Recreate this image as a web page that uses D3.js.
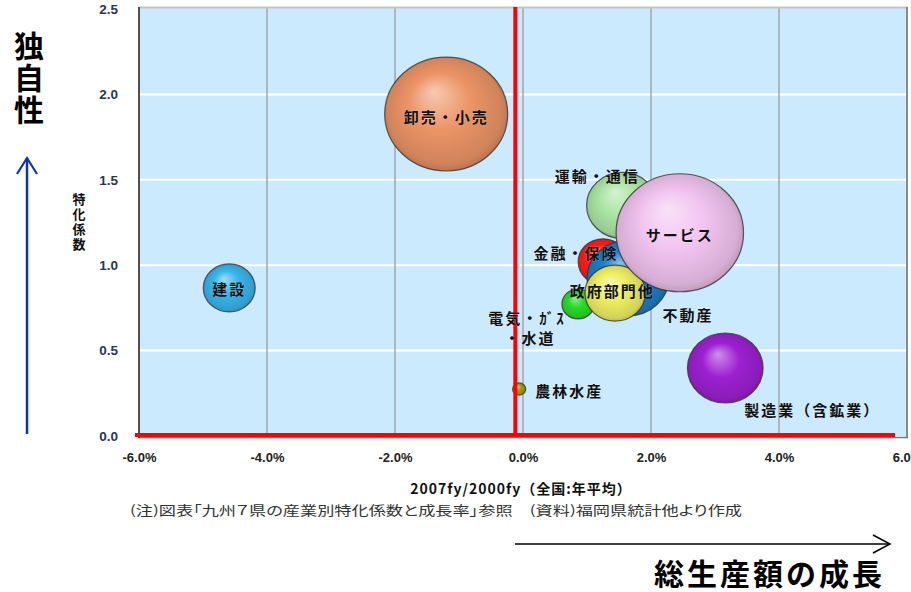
<!DOCTYPE html>
<html lang="ja">
<head>
<meta charset="utf-8">
<script src="https://cdn.jsdelivr.net/npm/d3@7"></script>
<style>
  html, body { margin: 0; padding: 0; background: #fff; }
  svg { display: block; font-family: "Noto Sans CJK JP", "Noto Sans", sans-serif; }
</style>
</head>
<body>
<svg id="chart" width="911" height="592"></svg>
<script>
// 産業別：成長率 (2007fy/2000fy, 全国年平均 %) × 特化係数、バブル＝構成比
const industries = ["卸売・小売", "建設", "運輸・通信", "金融・保険", "不動産", "電気・ガス・水道", "政府部門他", "農林水産", "製造業（含鉱業）", "サービス"];
const growthRate = [-1.20, -4.59, 1.55, 1.25, 1.64, 0.86, 1.44, -0.06, 3.16, 2.45];
const specialization = [1.885, 0.867, 1.35, 1.02, 0.925, 0.773, 0.837, 0.275, 0.398, 1.19];
const outputShare = [14.9, 2.65, 5.0, 2.43, 6.6, 1.03, 3.6, 0.17, 5.63, 16.0];
const bubbleColors = ["#ec9466", "#38b4ea", "#ace5a6", "#ff1c1c", "#1b7fc9", "#26da26", "#eeee62", "#9a9a00", "#9d20d2", "#f2c4f0"];

const xTicks = [-6, -4, -2, 0, 2, 4, 6];
const yTicks = [0, 0.5, 1.0, 1.5, 2.0, 2.5];
const referenceGrowth = -0.12;   // 赤の縦線（基準）

// label placement relative to bubble centre (one offset per line)
const labelLayout = {
  "卸売・小売": { anchor: "middle", lines: [["卸売・小売", 0, 2]] },
  "建設": { anchor: "middle", lines: [["建設", 0, 1]] },
  "運輸・通信": { anchor: "middle", lines: [["運輸・通信", -25, -30]] },
  "金融・保険": { anchor: "middle", lines: [["金融・保険", -27, -9]] },
  "不動産": { anchor: "middle", lines: [["不動産", 60, 36]] },
  "電気・ガス・水道": { anchor: "middle", lines: [["電気・ｶﾞｽ", -51, 14], ["・水道", -48, 34]] },
  "政府部門他": { anchor: "middle", lines: [["政府部門他", -3, -3]] },
  "農林水産": { anchor: "start", lines: [["農林水産", 16, 1]] },
  "製造業（含鉱業）": { anchor: "start", lines: [["製造業（含鉱業）", 19, 41]] },
  "サービス": { anchor: "middle", lines: [["サービス", 0, 2]] }
};

const data = industries.map((name, i) => ({
  name, x: growthRate[i], y: specialization[i], share: outputShare[i], color: bubbleColors[i]
}));

const svg = d3.select("#chart");
const plot = { left: 139, right: 907, top: 8, bottom: 436 };

const x = d3.scaleLinear().domain([-6, 6]).range([plot.left, plot.right]);
const y = d3.scaleLinear().domain([0, 2.5]).range([plot.bottom, 9]);
const r = d3.scaleSqrt().domain([0, d3.max(outputShare)]).range([0, 59]);
const aspect = 1.08;

// plot background
svg.append("rect")
  .attr("x", plot.left).attr("y", plot.top)
  .attr("width", plot.right - plot.left).attr("height", plot.bottom - plot.top)
  .attr("fill", "#cceafd");

// gridlines
svg.append("g").selectAll("line").data(yTicks.filter(t => t > 0 && t < 2.5)).join("line")
  .attr("x1", plot.left).attr("x2", plot.right)
  .attr("y1", d => y(d)).attr("y2", d => y(d))
  .attr("stroke", "#ffffff").attr("stroke-width", 2);
svg.append("g").selectAll("line").data(xTicks.filter(t => t > -6 && t < 6)).join("line")
  .attr("x1", d => x(d)).attr("x2", d => x(d))
  .attr("y1", plot.top).attr("y2", plot.bottom)
  .attr("stroke", "#9ea7b0").attr("stroke-width", 1.5);

// frame
svg.append("line").attr("x1", plot.left).attr("x2", plot.right + 1).attr("y1", plot.top - 0.5).attr("y2", plot.top - 0.5)
  .attr("stroke", "#c4c4c4").attr("stroke-width", 2);
svg.append("line").attr("x1", plot.right).attr("x2", plot.right).attr("y1", plot.top - 1).attr("y2", plot.bottom + 2)
  .attr("stroke", "#8c8c8c").attr("stroke-width", 2);
svg.append("line").attr("x1", plot.left).attr("x2", plot.right + 1).attr("y1", plot.bottom + 1.5).attr("y2", plot.bottom + 1.5)
  .attr("stroke", "#7a7a7a").attr("stroke-width", 1.5);
svg.append("line").attr("x1", plot.left).attr("x2", plot.left).attr("y1", plot.top - 1).attr("y2", plot.bottom + 2)
  .attr("stroke", "#505050").attr("stroke-width", 2);

// gradients for the spheres
const defs = svg.append("defs");
data.forEach((d, i) => {
  const base = d3.color(d.color);
  const g = defs.append("radialGradient").attr("id", "grad" + i)
    .attr("cx", "50%").attr("cy", "50%").attr("r", "55%")
    .attr("fx", "40%").attr("fy", "30%");
  g.append("stop").attr("offset", "0%").attr("stop-color", d3.interpolateRgb(base, "#ffffff")(0.5));
  g.append("stop").attr("offset", "45%").attr("stop-color", base.formatHex());
  g.append("stop").attr("offset", "85%").attr("stop-color", base.darker(0.35).formatHex());
  g.append("stop").attr("offset", "100%").attr("stop-color", base.darker(0.9).formatHex());
});

// bubbles
svg.append("g").selectAll("ellipse").data(data).join("ellipse")
  .attr("cx", d => x(d.x)).attr("cy", d => y(d.y))
  .attr("rx", d => r(d.share) * aspect).attr("ry", d => r(d.share))
  .attr("fill", (d, i) => `url(#grad${i})`)
  .attr("stroke", "#333").attr("stroke-width", 1.2).attr("stroke-opacity", 0.8);

// reference lines
svg.append("line").attr("x1", x(referenceGrowth)).attr("x2", x(referenceGrowth))
  .attr("y1", plot.top - 1).attr("y2", plot.bottom)
  .attr("stroke", "#ff0000").attr("stroke-width", 4);
svg.append("line").attr("x1", plot.left - 4).attr("x2", 895)
  .attr("y1", y(0) - 1).attr("y2", y(0) - 1)
  .attr("stroke", "#ff0000").attr("stroke-width", 4);

// bubble labels
const labels = svg.append("g").attr("font-weight", "bold").attr("fill", "#111")
  .attr("font-size", 15).attr("letter-spacing", 2);
data.forEach(d => {
  const L = labelLayout[d.name];
  L.lines.forEach(([line, dx, dy]) => {
    labels.append("text")
      .attr("x", x(d.x) + dx).attr("y", y(d.y) + dy)
      .attr("text-anchor", L.anchor).attr("dominant-baseline", "central")
      .attr("stroke", "rgba(255,255,255,0.35)").attr("stroke-width", 0.6)
      .attr("paint-order", "stroke")
      .text(line);
  });
});

// axes
const yAxis = svg.append("g").attr("transform", `translate(${plot.left},0)`)
  .call(d3.axisLeft(y).tickValues(yTicks).tickSize(0).tickPadding(21).tickFormat(d => d.toFixed(1)));
yAxis.select(".domain").remove();
yAxis.selectAll("text").attr("font-family", "'Liberation Sans', Arial, sans-serif")
  .attr("font-size", 13.5).attr("font-weight", "bold").attr("fill", "#2c3550");

const xAxis = svg.append("g").attr("transform", `translate(0,${plot.bottom})`)
  .call(d3.axisBottom(x).tickValues(xTicks).tickSize(0).tickPadding(17).tickFormat(d => d.toFixed(1) + "%"));
xAxis.select(".domain").remove();
xAxis.selectAll("text").attr("font-family", "'Liberation Sans', Arial, sans-serif")
  .attr("font-size", 13).attr("font-weight", "bold").attr("fill", "#222");

// axis titles
svg.append("text").attr("x", 521).attr("y", 488).attr("text-anchor", "middle")
  .attr("dominant-baseline", "central").attr("font-size", 14).attr("font-weight", "bold").attr("fill", "#111")
  .attr("letter-spacing", 1)
  .text("2007fy/2000fy（全国:年平均）");

svg.append("text").attr("x", 79).attr("y", 193)
  .attr("style", "writing-mode: vertical-rl")
  .attr("font-size", 13).attr("font-weight", "bold").attr("fill", "#111")
  .attr("letter-spacing", 2)
  .text("特化係数");

// source note
svg.append("text").attr("x", 130).attr("y", 509).attr("dominant-baseline", "central")
  .attr("font-size", 13).attr("fill", "#333")
  .attr("style", "font-feature-settings: 'palt'")
  .attr("textLength", 612).attr("lengthAdjust", "spacingAndGlyphs")
  .text("(注)図表「九州７県の産業別特化係数と成長率」参照　(資料)福岡県統計他より作成");

// 独自性 (vertical) with upward arrow
svg.append("text").attr("x", 29).attr("y", 31)
  .attr("style", "writing-mode: vertical-rl")
  .attr("font-size", 30).attr("font-weight", "bold").attr("fill", "#000")
  .attr("letter-spacing", 2)
  .text("独自性");
svg.append("line").attr("x1", 27).attr("x2", 27).attr("y1", 158).attr("y2", 434)
  .attr("stroke", "#0a36a6").attr("stroke-width", 2.5);
svg.append("path").attr("d", "M17,174 L27,158 L37,174")
  .attr("fill", "none").attr("stroke", "#0a36a6").attr("stroke-width", 2.2);

// 総生産額の成長 with rightward arrow
svg.append("line").attr("x1", 515).attr("x2", 890).attr("y1", 544).attr("y2", 544)
  .attr("stroke", "#000").attr("stroke-width", 1.5);
svg.append("path").attr("d", "M873,535 L890,544 L873,553")
  .attr("fill", "none").attr("stroke", "#000").attr("stroke-width", 1.5);
svg.append("text").attr("x", 654).attr("y", 572)
  .attr("dominant-baseline", "central").attr("font-size", 30).attr("font-weight", "bold").attr("fill", "#000")
  .attr("letter-spacing", 3)
  .text("総生産額の成長");
</script>
</body>
</html>
